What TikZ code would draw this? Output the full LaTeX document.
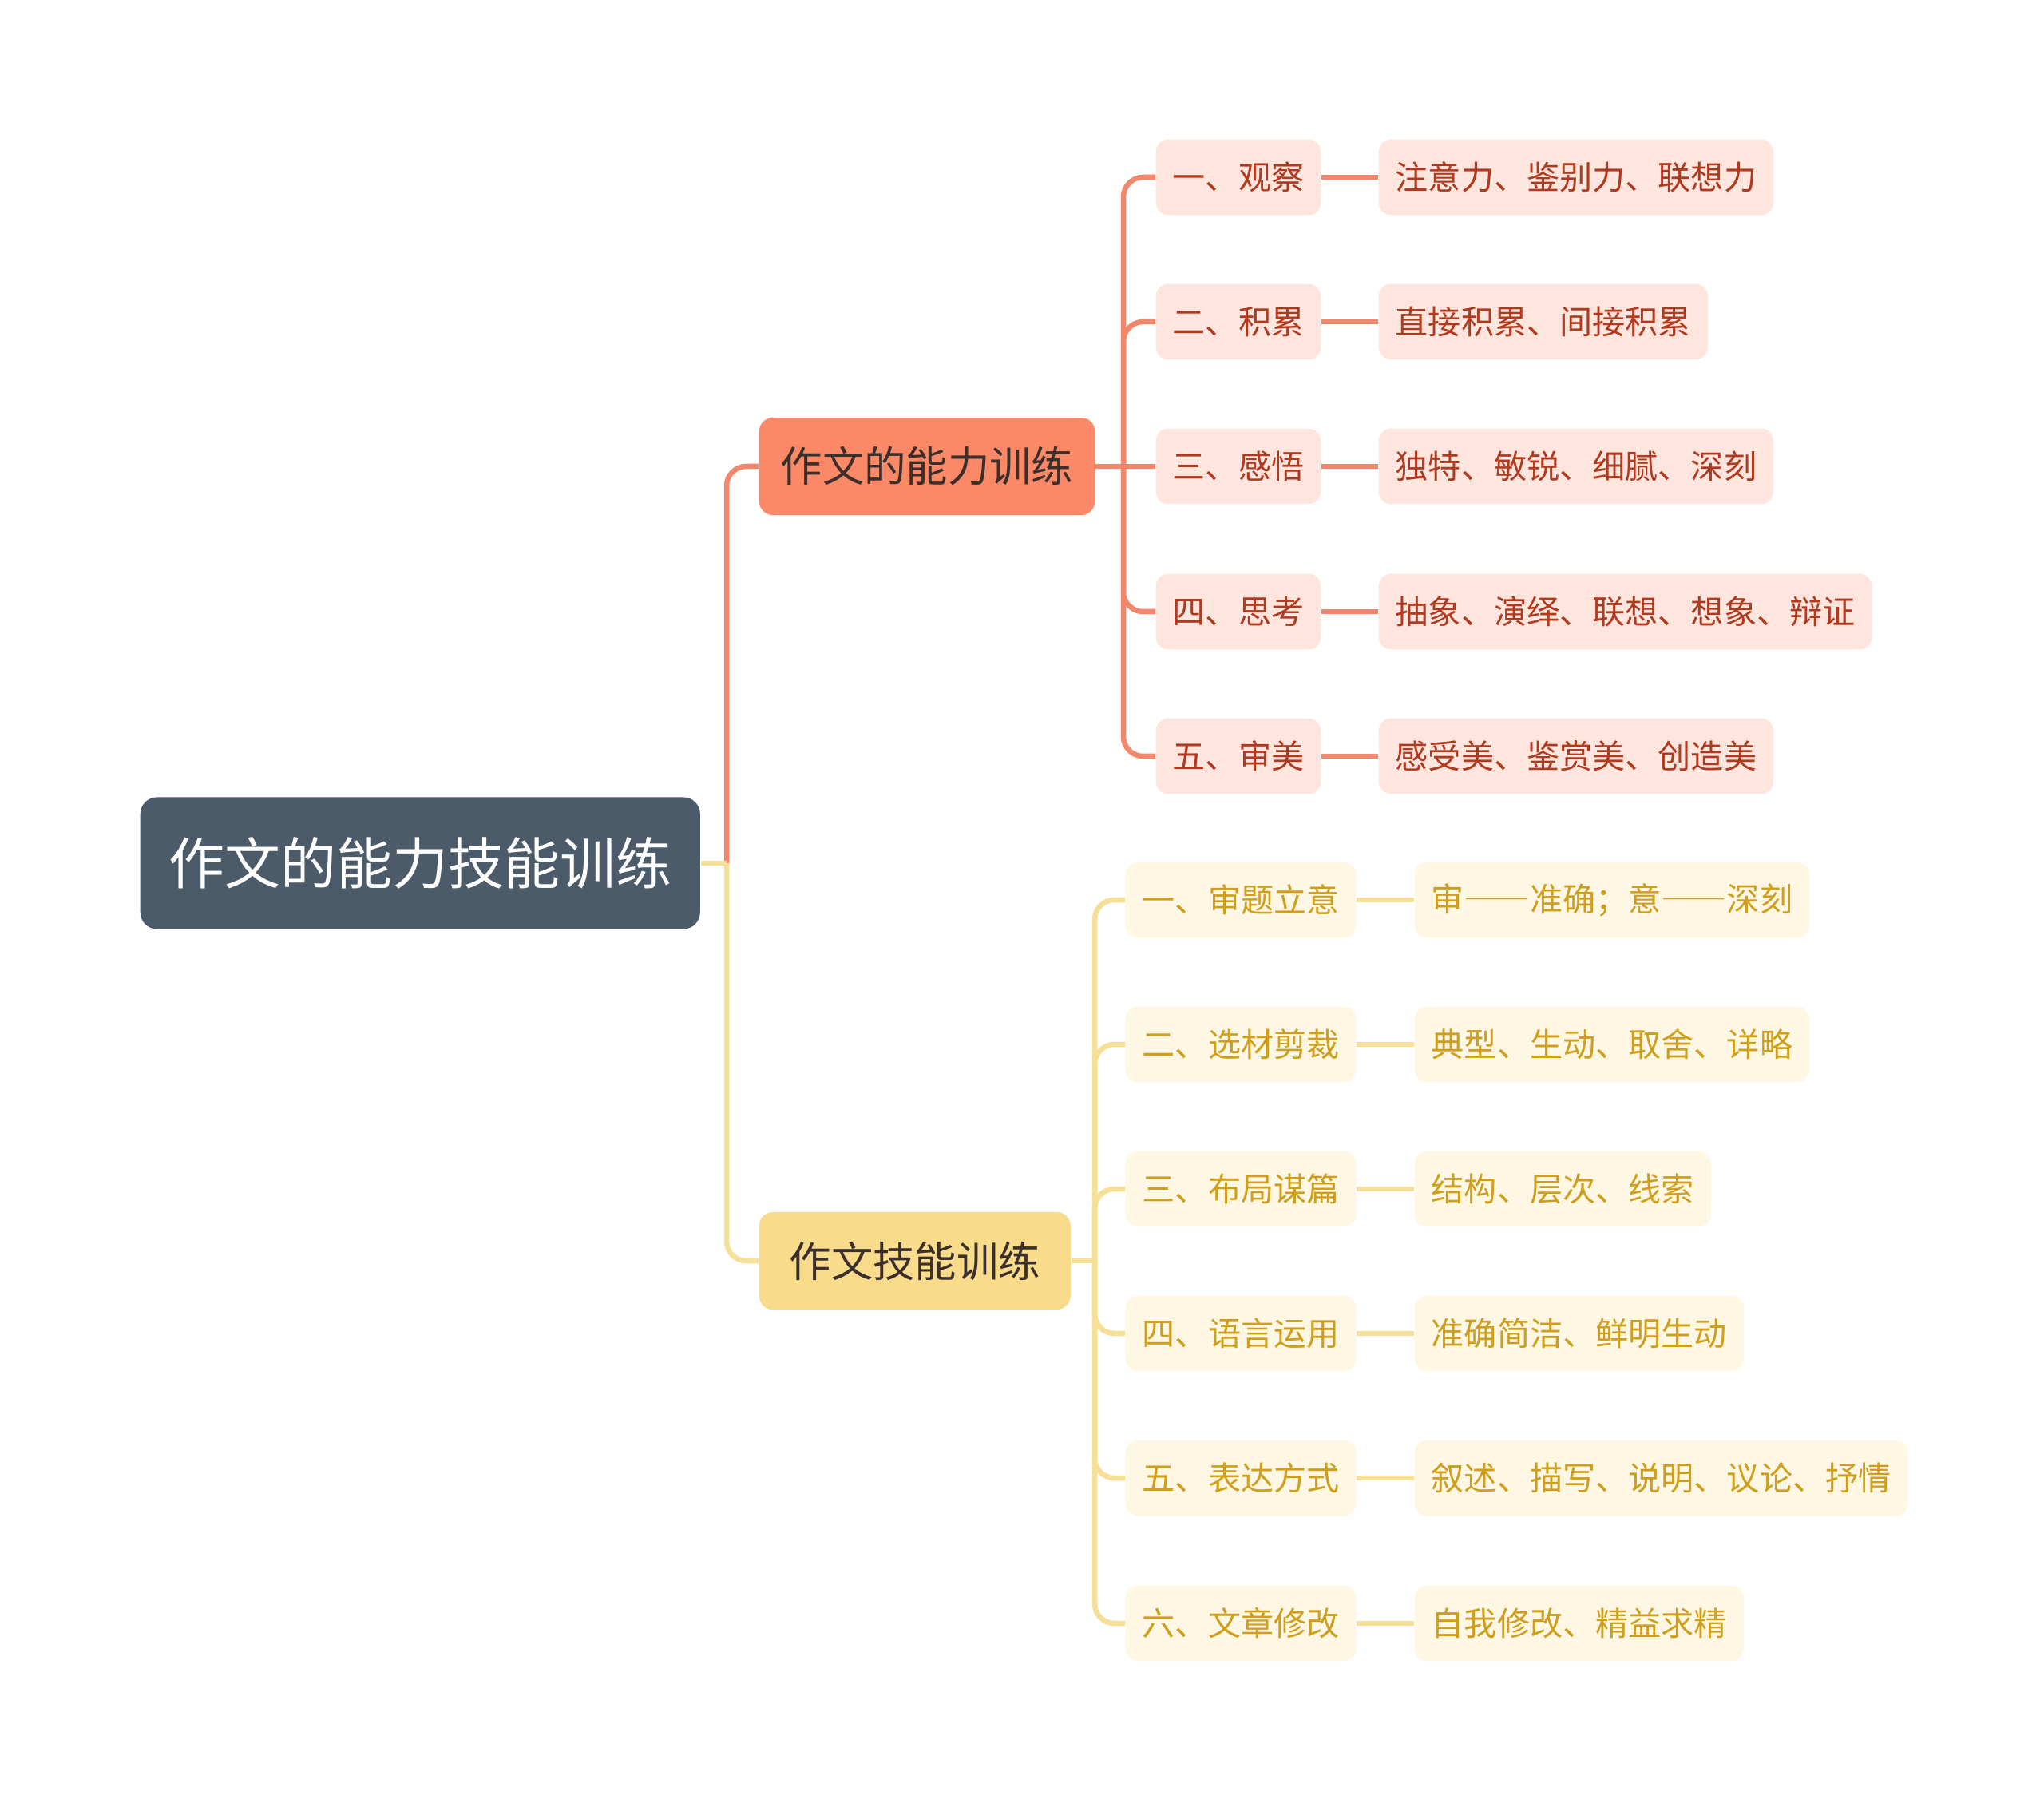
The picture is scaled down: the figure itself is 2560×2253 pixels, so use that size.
\documentclass[tikz,border=0pt]{standalone}
\usepackage{fontspec}
\setmainfont{Noto Sans CJK SC}
\usetikzlibrary{positioning}
\definecolor{rootslate}{HTML}{4B5B69}
\definecolor{abilcoral}{HTML}{FB8866}
\definecolor{abilline}{HTML}{F3876B}
\definecolor{abilpink}{HTML}{FEE5DE}
\definecolor{abiltext}{HTML}{B0391E}
\definecolor{skillgold}{HTML}{F8DC8C}
\definecolor{skillline}{HTML}{F6DF96}
\definecolor{skillcream}{HTML}{FEF7E4}
\definecolor{skilltext}{HTML}{CF9F1C}
\definecolor{darktext}{HTML}{3B2F2B}

\tikzset{
  rootbox/.style={fill=rootslate,text=white,rounded corners=6pt,anchor=west,
    minimum height=47pt,inner xsep=10.2pt,font=\fontsize{19.9pt}{22pt}\selectfont},
  abilbox/.style={fill=abilcoral,text=darktext,rounded corners=5pt,anchor=west,
    minimum height=34.8pt,inner xsep=7.7pt,font=\fontsize{14.9pt}{17pt}\selectfont},
  skillbox/.style={fill=skillgold,text=darktext,rounded corners=5pt,anchor=west,
    minimum height=34.8pt,inner xsep=10.8pt,font=\fontsize{14.9pt}{17pt}\selectfont},
  abilitem/.style={fill=abilpink,text=abiltext,rounded corners=4.5pt,anchor=west,
    minimum height=27pt,inner xsep=6pt,font=\fontsize{11.7pt}{13pt}\selectfont},
  skillitem/.style={fill=skillcream,text=skilltext,rounded corners=4.5pt,anchor=west,
    minimum height=27pt,inner xsep=6pt,font=\fontsize{11.7pt}{13pt}\selectfont},
  abilwire/.style={draw=abilline,line width=1.85pt,rounded corners=7pt},
  skillwire/.style={draw=skillline,line width=1.85pt,rounded corners=7pt}
}

\begin{document}
\begin{tikzpicture}[x=0.1mm,y=-0.1mm]
  \useasboundingbox (0,0) rectangle (2560,2253);

  % centre and main branches
  \node[rootbox] (root) at (175,1081) {作文的能力技能训练};
  \node[abilbox] (abil) at (950,584) {作文的能力训练};
  \node[skillbox] (skill) at (950,1579) {作文技能训练};

  % ability items
  \node[abilitem] (a1) at (1447,222) {一、观察};
  \node[abilitem] (a2) at (1447,403) {二、积累};
  \node[abilitem] (a3) at (1447,584) {三、感悟};
  \node[abilitem] (a4) at (1447,766) {四、思考};
  \node[abilitem] (a5) at (1447,947) {五、审美};
  \node[abilitem] (a1d) at (1726,222) {注意力、鉴别力、联想力};
  \node[abilitem] (a2d) at (1726,403) {直接积累、间接积累};
  \node[abilitem] (a3d) at (1726,584) {独特、敏锐、细腻、深刻};
  \node[abilitem] (a4d) at (1726,766) {抽象、演绎、联想、想象、辩证};
  \node[abilitem] (a5d) at (1726,947) {感受美、鉴赏美、创造美};

  % skill items
  \node[skillitem] (s1) at (1409,1127) {一、审题立意};
  \node[skillitem] (s2) at (1409,1308) {二、选材剪裁};
  \node[skillitem] (s3) at (1409,1489) {三、布局谋篇};
  \node[skillitem] (s4) at (1409,1670) {四、语言运用};
  \node[skillitem] (s5) at (1409,1851) {五、表达方式};
  \node[skillitem] (s6) at (1409,2033) {六、文章修改};
  \node[skillitem] (s1d) at (1771,1127) {\addfontfeature{RawFeature=+fwid}审——准确；意——深刻};
  \node[skillitem] (s2d) at (1771,1308) {典型、生动、取舍、详略};
  \node[skillitem] (s3d) at (1771,1489) {结构、层次、线索};
  \node[skillitem] (s4d) at (1771,1670) {准确简洁、鲜明生动};
  \node[skillitem] (s5d) at (1771,1851) {叙述、描写、说明、议论、抒情};
  \node[skillitem] (s6d) at (1771,2033) {自我修改、精益求精};

  % wiring
  \coordinate (rj) at (910,1081);
  \coordinate (aj) at (1407,584);
  \coordinate (sj) at (1371,1579);
  \draw[abilwire] (rj) |- (abil.west);
  \draw[skillwire] (rj) |- (skill.west);
  \draw[skillwire] (root.east) -- (rj);
  \draw[abilwire] (abil.east) -- (aj);
  \foreach \n in {a1,a2,a4,a5} \draw[abilwire] (aj) |- (\n.west);
  \draw[abilwire] (aj) -- (a3.west);
  \foreach \n in {a1,a2,a3,a4,a5} \draw[abilwire] (\n.east) -- (\n d.west);
  \draw[skillwire] (skill.east) -- (sj);
  \foreach \n in {s1,s2,s3,s4,s5,s6} \draw[skillwire] (sj) |- (\n.west);
  \foreach \n in {s1,s2,s3,s4,s5,s6} \draw[skillwire] (\n.east) -- (\n d.west);
\end{tikzpicture}
\end{document}
